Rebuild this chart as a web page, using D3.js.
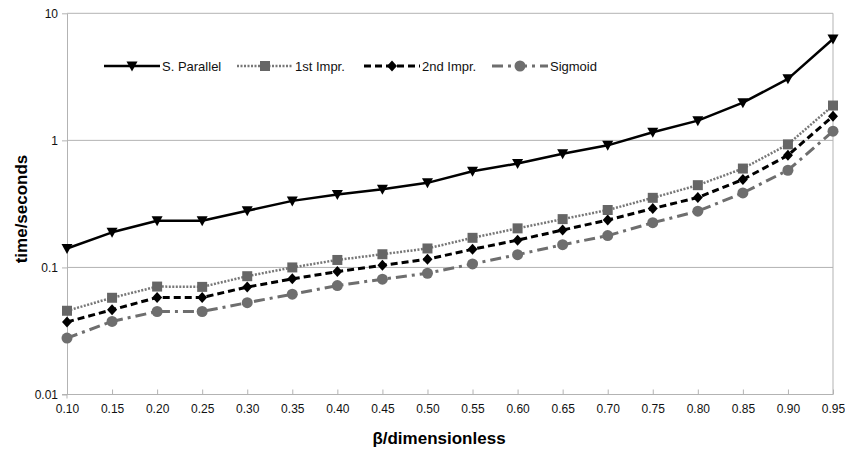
<!DOCTYPE html>
<html><head><meta charset="utf-8">
<script src="https://cdn.jsdelivr.net/npm/d3@7"></script>
<style>
html,body{margin:0;padding:0;background:#fff;}
text{font-family:"Liberation Sans",Arial,sans-serif;}
</style></head>
<body><svg id="c" width="845" height="450"></svg>
<script>
const categories = ["0.10","0.15","0.20","0.25","0.30","0.35","0.40","0.45","0.50","0.55","0.60","0.65","0.70","0.75","0.80","0.85","0.90","0.95"];
const sParallel = [0.141,0.189,0.233,0.233,0.279,0.334,0.375,0.413,0.463,0.571,0.657,0.786,0.914,1.16,1.43,1.98,3.05,6.28];
const firstImpr = [0.0456,0.0577,0.0707,0.0703,0.0853,0.100,0.1145,0.127,0.141,0.171,0.203,0.240,0.283,0.353,0.444,0.600,0.930,1.88];
const secondImpr = [0.0372,0.0464,0.0580,0.0580,0.0701,0.0813,0.0927,0.104,0.116,0.139,0.164,0.197,0.236,0.291,0.355,0.492,0.763,1.55];
const sigmoid = [0.0278,0.0376,0.0450,0.0450,0.0528,0.0616,0.0720,0.0808,0.0900,0.1066,0.126,0.151,0.178,0.225,0.277,0.386,0.582,1.18];
const yTicks = [0.01,0.1,1,10];
const yTickLabels = ["0.01","0.1","1","10"];
const seriesNames = ["S. Parallel","1st Impr.","2nd Impr.","Sigmoid"];

const svg = d3.select("#c");
const L = 67, R = 833, T = 13.3, B = 394.5;
const x = d3.scalePoint().domain(categories).range([L, R]);
const y = d3.scaleLog().domain([0.01, 10]).range([B, T]);
const grid = "#b3b3b3";

// gridlines
svg.append("g").selectAll("line").data(yTicks.filter(v => v > 0.01)).join("line")
  .attr("x1", L).attr("x2", R).attr("y1", d => y(d)).attr("y2", d => y(d))
  .attr("stroke", grid).attr("stroke-width", 1);
// right border
svg.append("line").attr("x1", R).attr("x2", R).attr("y1", T).attr("y2", B).attr("stroke", grid);

// y axis
const yAxis = d3.axisLeft(y).tickValues(yTicks).tickFormat((d,i) => yTickLabels[i]).tickSizeOuter(0).tickSizeInner(5).tickPadding(4);
const gy = svg.append("g").attr("transform", `translate(${L},0)`).call(yAxis);
gy.select(".domain").attr("stroke", grid);
gy.selectAll(".tick line").attr("stroke", grid);
gy.selectAll("text").attr("font-size", 12).attr("fill", "#111").attr("font-family", "Liberation Sans, Arial, sans-serif");

// x axis
const xAxis = d3.axisBottom(x).tickSizeInner(-5).tickSizeOuter(0).tickPadding(10);
const gx = svg.append("g").attr("transform", `translate(0,${B})`).call(xAxis);
gx.select(".domain").attr("stroke", grid).attr("d", `M${L-5},0H${R}`);
gx.selectAll(".tick line").attr("stroke", grid);
gx.selectAll("text").attr("font-size", 12).attr("fill", "#111").attr("font-family", "Liberation Sans, Arial, sans-serif");
svg.append("line").attr("x1", L).attr("x2", L).attr("y1", B).attr("y2", B+4).attr("stroke", grid);

// titles
svg.append("text").attr("x", 439).attr("y", 444).attr("text-anchor", "middle")
  .attr("font-size", 17).attr("font-weight", "bold").text("β/dimensionless");
svg.append("text").attr("transform", "translate(27,209) rotate(-90)").attr("text-anchor", "middle")
  .attr("font-size", 17).attr("font-weight", "bold").text("time/seconds");

const styles = [
  {data: sParallel, color: "#000", width: 2.5, dash: null, sym: "tri", mcol: "#000"},
  {data: firstImpr, color: "#777", width: 2.5, dash: "2,1.5", sym: "sq", mcol: "#666"},
  {data: secondImpr, color: "#000", width: 3, dash: "7,4", sym: "dia", mcol: "#000"},
  {data: sigmoid, color: "#6e6e6e", width: 3, dash: "11,5,3,5", sym: "circ", mcol: "#6e6e6e"}
];
const symPath = {
  tri: "M-5.5,-4.5L5.5,-4.5L0,5.5Z",
  sq: "M-5,-5H5V5H-5Z",
  dia: "M0,-5.5L5,0L0,5.5L-5,0Z",
  circ: d3.symbol(d3.symbolCircle, 95)()
};
const line = d3.line().x((d,i) => x(categories[i])).y(d => y(d));

styles.slice().reverse().forEach(s => {
  const g = svg.append("g");
  g.append("path").attr("d", line(s.data)).attr("fill", "none").attr("stroke", s.color)
    .attr("stroke-width", s.width).attr("stroke-dasharray", s.dash).attr("stroke-linejoin", "round");
  g.selectAll("path.m").data(s.data).join("path").attr("class", "m")
    .attr("transform", (d,i) => `translate(${x(categories[i])},${y(d)})`)
    .attr("d", symPath[s.sym]).attr("fill", s.mcol);
});

// legend
const legX = [104, 237, 364, 492];
styles.forEach((s, i) => {
  const g = svg.append("g").attr("transform", `translate(${legX[i]},66)`);
  g.append("line").attr("x1", 0).attr("x2", 56).attr("y1", 0).attr("y2", 0)
    .attr("stroke", s.color).attr("stroke-width", s.width).attr("stroke-dasharray", s.dash);
  g.append("path").attr("transform", "translate(28,0)").attr("d", symPath[s.sym]).attr("fill", s.mcol);
  g.append("text").attr("x", 58).attr("y", 4.5).attr("font-size", 13).attr("fill", "#111").text(seriesNames[i]);
});
</script></body></html>
